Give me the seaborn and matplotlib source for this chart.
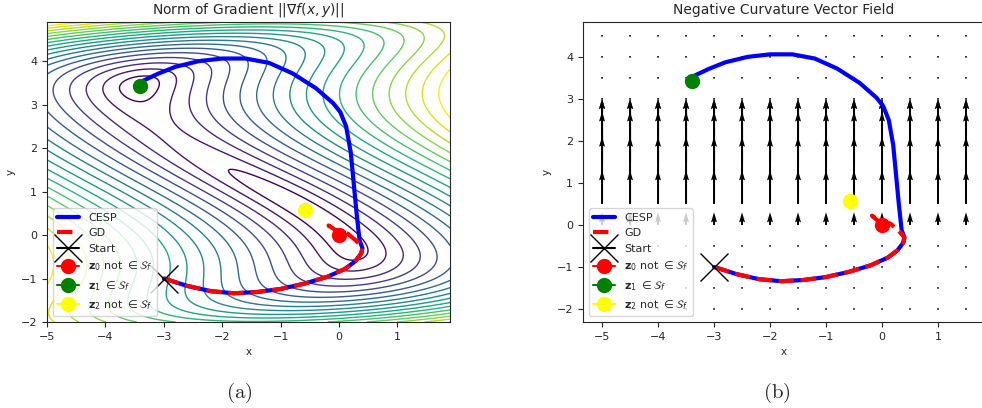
import numpy as np
import seaborn as sns
import matplotlib
matplotlib.use("Agg")
import matplotlib.pyplot as plt

sns.set_style("ticks")
plt.rcParams["font.family"] = ["DejaVu Sans"]
plt.rcParams["mathtext.fontset"] = "dejavusans"

# --- data ---
# optimisation paths
cesp_x = [-3.0, -2.6, -2.2, -1.8, -1.4, -1.0, -0.6, -0.2, 0.1, 0.28, 0.38, 0.40, 0.35,
          0.30, 0.25, 0.20, 0.12, 0.02, -0.1, -0.4, -0.8, -1.2, -1.6, -2.0, -2.4, -2.8, -3.1, -3.4]
cesp_y = [-1.0, -1.17, -1.29, -1.34, -1.31, -1.24, -1.12, -0.96, -0.78, -0.6, -0.42, -0.3, -0.12,
          0.5, 1.2, 1.9, 2.5, 2.83, 3.03, 3.38, 3.72, 3.96, 4.06, 4.06, 4.0, 3.87, 3.71, 3.52]
gd_x = [-3.0, -2.6, -2.2, -1.8, -1.4, -1.0, -0.6, -0.2, 0.1, 0.28, 0.38, 0.40, 0.30, 0.15,
        0.02, -0.08, -0.18, -0.12, -0.02]
gd_y = [-1.0, -1.17, -1.29, -1.34, -1.31, -1.24, -1.12, -0.96, -0.78, -0.6, -0.42, -0.3, -0.14,
        0.03, 0.08, 0.13, 0.22, 0.15, 0.05]

start_pt = (-3.0, -1.0)
z0_pt = (0.0, 0.0)
z1_pt = (-3.4, 3.42)
z2_pt = (-0.58, 0.58)

# test function f(x, y) = a (x + y)^2 + c(y), c'(y) = k y (y - 0.58) (y - 3.42)
a_coef = 1.0
k_coef = -0.5
crit_y = [0.0, 0.58, 3.42]
contour_levels = np.arange(0.95, 15.0, 0.8)

# negative curvature field: arrow length per grid row
field_x = np.arange(-5, 2.0, 0.5)
field_y = np.arange(-2, 5.0, 0.5)
row_len = [0, 0, 0, 0, 0.3, 0.8, 1.1, 1.2, 1.0, 0.5, 0, 0, 0, 0]

labels = ["CESP", "GD", "Start",
          r"$\mathbf{z}_0$ not $\in \mathcal{S}_f$",
          r"$\mathbf{z}_1$ $\in \mathcal{S}_f$",
          r"$\mathbf{z}_2$ not $\in \mathcal{S}_f$"]


def grad_norm(x, y):
    s = x + y
    cp = k_coef * (y - crit_y[0]) * (y - crit_y[1]) * (y - crit_y[2])
    fx = 2 * a_coef * s
    fy = 2 * a_coef * s + cp
    return np.sqrt(fx ** 2 + fy ** 2)


def draw_paths(ax):
    sns.lineplot(x=cesp_x, y=cesp_y, sort=False, estimator=None, color="blue",
                 linewidth=3, label=labels[0], ax=ax)
    sns.lineplot(x=gd_x, y=gd_y, sort=False, estimator=None, color="red",
                 linewidth=3, linestyle="--", label=labels[1], ax=ax)
    ax.plot(*start_pt, marker="x", color="black", markersize=20, label=labels[2])
    ax.plot(*z0_pt, marker="o", color="red", markersize=10, label=labels[3])
    ax.plot(*z1_pt, marker="o", color="green", markersize=10, label=labels[4])
    ax.plot(*z2_pt, marker="o", color="yellow", markersize=10, label=labels[5])
    ax.legend(loc="lower left", fontsize=8)


fig = plt.figure(figsize=(9.82, 4.08), dpi=100)
ax1 = fig.add_axes([0.0479, 0.2108, 0.4104, 0.7353])
ax2 = fig.add_axes([0.5937, 0.2108, 0.4094, 0.7353])

# (a) contour of gradient norm
gx = np.linspace(-5, 1.9, 300)
gy = np.linspace(-2, 4.9, 300)
X, Y = np.meshgrid(gx, gy)
G = grad_norm(X, Y)
ax1.contour(X, Y, G, levels=contour_levels, cmap="viridis", linewidths=1.0)
draw_paths(ax1)
ax1.set_xlim(-5, 1.9)
ax1.set_ylim(-2, 4.9)
ax1.set_title(r"Norm of Gradient $||\nabla f(x, y)||$", fontsize=10)

# (b) negative curvature vector field
QX, QY = np.meshgrid(field_x, field_y)
U = np.zeros_like(QX)
V = np.array(row_len)[:, None] * np.ones_like(QX)
ax2.quiver(QX, QY, U, V, angles="xy", scale_units="xy", scale=1, width=0.005)
draw_paths(ax2)
ax2.set_xlim(-5.34, 1.84)
ax2.set_ylim(-2.31, 4.83)
ax2.set_title("Negative Curvature Vector Field", fontsize=10)

for ax in (ax1, ax2):
    ax.set_xlabel("x", fontsize=7.5)
    ax.set_ylabel("y", fontsize=7.5)
    ax.tick_params(labelsize=8, length=3.5)
    for sp in ax.spines.values():
        sp.set_visible(True)

plt.rcParams["mathtext.fontset"] = "cm"
fig.text(0.244, 0.037, r"$\mathrm{(a)}$", fontsize=15, ha="center", va="center")
fig.text(0.791, 0.037, r"$\mathrm{(b)}$", fontsize=15, ha="center", va="center")

fig.savefig("out.png", dpi=100)
